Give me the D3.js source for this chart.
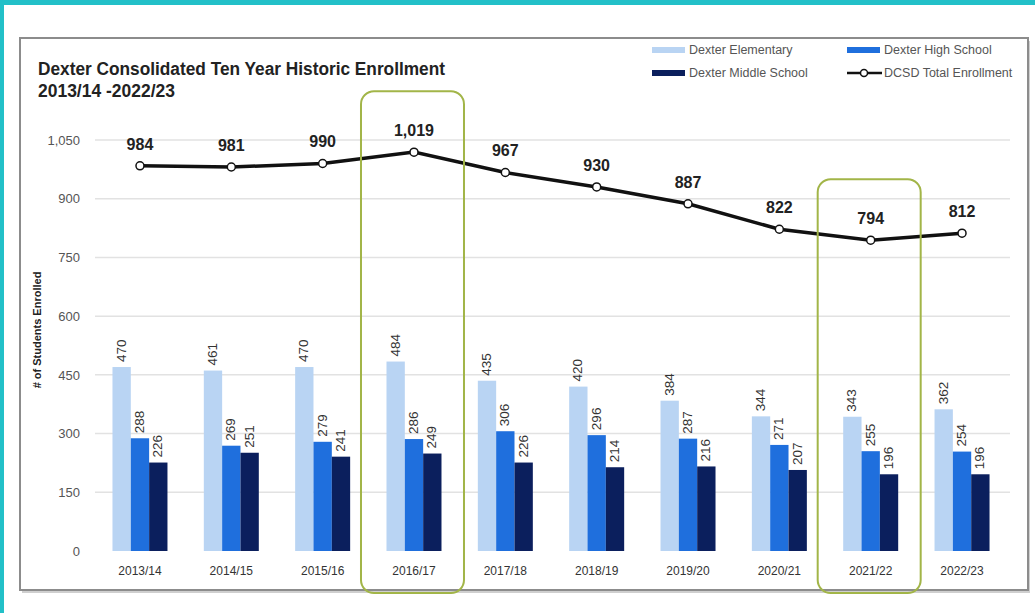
<!DOCTYPE html>
<html><head><meta charset="utf-8">
<script src="https://cdn.jsdelivr.net/npm/d3@7"></script>
<style>
html,body{margin:0;padding:0;background:#fff;}
svg{display:block;}
</style></head>
<body>
<svg id="chart" width="1035" height="613"></svg>
<script>
const categories = ["2013/14","2014/15","2015/16","2016/17","2017/18","2018/19","2019/20","2020/21","2021/22","2022/23"];
const elementary = [470,461,470,484,435,420,384,344,343,362];
const highSchool = [288,269,279,286,306,296,287,271,255,254];
const middleSchool = [226,251,241,249,226,214,216,207,196,196];
const totalEnrollment = [984,981,990,1019,967,930,887,822,794,812];
const yTicks = [0,150,300,450,600,750,900,1050];
const highlighted = ["2016/17","2021/22"];
const seriesNames = ["Dexter Elementary","Dexter High School","Dexter Middle School"];
const seriesColors = ["#b9d4f3","#1f6fdd","#0b1f5d"];
const seriesValues = [elementary, highSchool, middleSchool];

const font = "'Liberation Sans Narrow','Arial Narrow','Liberation Sans',Arial,sans-serif";
const svg = d3.select("#chart");

// teal border strips
svg.append("rect").attr("x",0).attr("y",0).attr("width",1035).attr("height",5).attr("fill","#22c0c8");
svg.append("rect").attr("x",0).attr("y",0).attr("width",4).attr("height",613).attr("fill","#22c0c8");

// frame with shadow
svg.append("rect").attr("x",22).attr("y",41).attr("width",1008).attr("height",552).attr("fill","#cfcfcf");
svg.append("rect").attr("x",20).attr("y",38).attr("width",1008).attr("height",552)
  .attr("fill","#fff").attr("stroke","#8c8c8c").attr("stroke-width",2);

const x = d3.scaleBand().domain(categories).range([94.3, 1007.7]).padding(0);
const xs = d3.scaleBand().domain(seriesNames).range([-27.5, 27.5]).padding(0);
const y = d3.scaleLinear().domain([0,1050]).range([551,140]);

// gridlines
svg.append("g").selectAll("line").data(yTicks.filter(d=>d>0)).join("line")
  .attr("x1",95).attr("x2",1010).attr("y1",d=>y(d)).attr("y2",d=>y(d))
  .attr("stroke","#e2e2e2").attr("stroke-width",1.5);

// y axis
const yAxis = d3.axisLeft(y).tickValues(yTicks).tickFormat(d3.format(",")).tickSize(0).tickPadding(0);
const ya = svg.append("g").attr("transform","translate(80,0)").call(yAxis);
ya.select(".domain").remove();
ya.selectAll("text").attr("font-family",font).attr("font-size",13).attr("fill","#555");

// x axis
const xAxis = d3.axisBottom(x).tickSize(0).tickPadding(0);
const xa = svg.append("g").attr("transform","translate(0,566)").call(xAxis);
xa.select(".domain").remove();
xa.selectAll("text").attr("font-family",font).attr("font-size",12).attr("fill","#333");

// y title
svg.append("text").attr("transform","translate(41,330) rotate(-90)")
  .attr("text-anchor","middle").attr("font-family",font).attr("font-weight","bold")
  .attr("font-size",11).attr("fill","#222").text("# of Students Enrolled");

// bars
seriesNames.forEach((name,si)=>{
  const g = svg.append("g");
  g.selectAll("rect").data(categories).join("rect")
    .attr("x",(c)=>x(c)+x.bandwidth()/2+xs(name))
    .attr("width",xs.bandwidth())
    .attr("y",(c,i)=>y(seriesValues[si][i]))
    .attr("height",(c,i)=>y(0)-y(seriesValues[si][i]))
    .attr("fill",seriesColors[si]);
  g.selectAll("text").data(categories).join("text")
    .attr("transform",(c,i)=>`translate(${x(c)+x.bandwidth()/2+xs(name)+xs.bandwidth()/2+4},${y(seriesValues[si][i])-5}) rotate(-90)`)
    .attr("font-family",font).attr("font-size",13.5).attr("fill","#333")
    .text((c,i)=>seriesValues[si][i]);
});

// line
const cx = c => x(c)+x.bandwidth()/2;
const line = d3.line().x((d,i)=>cx(categories[i])).y(d=>y(d));
svg.append("path").datum(totalEnrollment).attr("d",line)
  .attr("fill","none").attr("stroke","#111").attr("stroke-width",3.5);
svg.append("g").selectAll("circle").data(totalEnrollment).join("circle")
  .attr("cx",(d,i)=>cx(categories[i])).attr("cy",d=>y(d)).attr("r",4)
  .attr("fill","#fff").attr("stroke","#111").attr("stroke-width",1.5);
svg.append("g").selectAll("text").data(totalEnrollment).join("text")
  .attr("x",(d,i)=>cx(categories[i])).attr("y",d=>y(d)-16)
  .attr("text-anchor","middle").attr("font-family",font).attr("font-weight","bold")
  .attr("font-size",16).attr("fill","#222").text(d=>d3.format(",")(d));

// highlight boxes
svg.append("g").selectAll("rect").data(highlighted).join("rect")
  .attr("x",c=>cx(c)-53).attr("width",103)
  .attr("y",c=>y(totalEnrollment[categories.indexOf(c)])-61)
  .attr("height",c=>593-(y(totalEnrollment[categories.indexOf(c)])-61))
  .attr("rx",13).attr("ry",13)
  .attr("fill","none").attr("stroke","#a2b548").attr("stroke-width",2);

// title
svg.append("text").attr("x",38).attr("y",75).attr("font-family",font).attr("font-weight","bold")
  .attr("font-size",18).attr("fill","#222").attr("textLength",407).attr("lengthAdjust","spacingAndGlyphs")
  .text("Dexter Consolidated Ten Year Historic Enrollment");
svg.append("text").attr("x",38).attr("y",97).attr("font-family",font).attr("font-weight","bold")
  .attr("font-size",18).attr("fill","#222").attr("textLength",137).attr("lengthAdjust","spacingAndGlyphs")
  .text("2013/14 -2022/23");

// legend
const legendItems = [
  {name:seriesNames[0], color:seriesColors[0], type:"bar", lx:652, ly:50},
  {name:seriesNames[1], color:seriesColors[1], type:"bar", lx:847, ly:50},
  {name:seriesNames[2], color:seriesColors[2], type:"bar", lx:652, ly:73},
  {name:"DCSD Total Enrollment", color:"#111", type:"line", lx:847, ly:73}
];
const lg = svg.append("g");
legendItems.forEach(it=>{
  if(it.type==="bar"){
    lg.append("rect").attr("x",it.lx).attr("y",it.ly-3).attr("width",33).attr("height",6).attr("fill",it.color);
  } else {
    lg.append("line").attr("x1",it.lx).attr("x2",it.lx+35).attr("y1",it.ly).attr("y2",it.ly)
      .attr("stroke",it.color).attr("stroke-width",2.5);
    lg.append("circle").attr("cx",it.lx+17).attr("cy",it.ly).attr("r",3.5)
      .attr("fill","#fff").attr("stroke",it.color).attr("stroke-width",1.5);
  }
  lg.append("text").attr("x",it.lx+37).attr("y",it.ly+4).attr("font-family",font)
    .attr("font-size",12.5).attr("fill","#555").text(it.name);
});
</script>
</body></html>
